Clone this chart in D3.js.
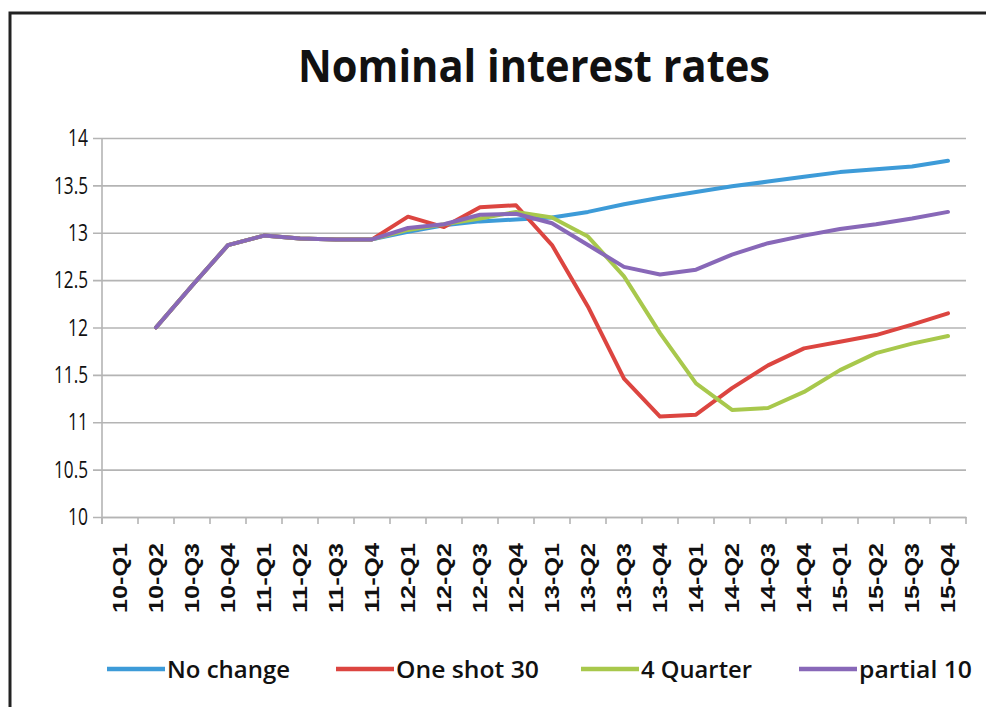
<!DOCTYPE html>
<html><head><meta charset="utf-8">
<script src="https://cdn.jsdelivr.net/npm/d3@7"></script>
<style>
html,body{margin:0;padding:0;background:#fff;}
svg{display:block;}
</style></head>
<body>
<svg id="chart" width="986" height="707"></svg>
<script>
const categories = ["10-Q1","10-Q2","10-Q3","10-Q4","11-Q1","11-Q2","11-Q3","11-Q4",
  "12-Q1","12-Q2","12-Q3","12-Q4","13-Q1","13-Q2","13-Q3","13-Q4",
  "14-Q1","14-Q2","14-Q3","14-Q4","15-Q1","15-Q2","15-Q3","15-Q4"];
const yTicks = [10,10.5,11,11.5,12,12.5,13,13.5,14];
const seriesNames = ["No change","One shot 30","4 Quarter","partial 10"];
const seriesColors = ["#3d9bd8","#dc4540","#a8c84c","#8868b8"];
const noChange   = [null,12.0,12.44,12.87,12.97,12.94,12.93,12.93,13.01,13.08,13.12,13.14,13.16,13.22,13.30,13.37,13.43,13.49,13.54,13.59,13.64,13.67,13.70,13.76];
const oneShot30  = [null,12.0,12.44,12.87,12.97,12.94,12.93,12.93,13.17,13.06,13.27,13.29,12.87,12.22,11.46,11.06,11.08,11.36,11.60,11.78,11.85,11.92,12.03,12.15];
const quarter4   = [null,12.0,12.44,12.87,12.97,12.94,12.93,12.93,13.03,13.09,13.15,13.22,13.16,12.96,12.54,11.94,11.41,11.13,11.15,11.32,11.55,11.73,11.83,11.91];
const partial10  = [null,12.0,12.44,12.87,12.97,12.94,12.93,12.93,13.05,13.09,13.19,13.20,13.10,12.87,12.64,12.56,12.61,12.77,12.89,12.97,13.04,13.09,13.15,13.22];
const seriesValues = [noChange, oneShot30, quarter4, partial10];

const svg = d3.select("#chart");
const L = 102, R = 966, T = 138, B = 517;

// outer frame (left & top edges visible)
svg.append("path").attr("d","M10,707 L10,13 L986,13").attr("fill","none")
  .attr("stroke","#222").attr("stroke-width",3);

// title
svg.append("text").attr("x",534).attr("y",82).attr("text-anchor","middle")
  .attr("font-family","'Open Sans', Arial, sans-serif").attr("font-weight",700)
  .attr("font-size",45).attr("fill","#111").text("Nominal interest rates")
  .attr("textLength",472).attr("lengthAdjust","spacingAndGlyphs");

const x = d3.scaleBand().domain(categories).range([L,R]).paddingInner(0).paddingOuter(0);
const y = d3.scaleLinear().domain([10,14]).range([B,T]);

// gridlines + y axis
const yAxis = d3.axisLeft(y).tickValues(yTicks).tickSize(-(R-L)).tickPadding(14)
  .tickFormat(d => String(d));
const gy = svg.append("g").attr("transform",`translate(${L},0)`).call(yAxis);
gy.select(".domain").remove();
gy.selectAll(".tick line").attr("stroke","#b4b4b4").attr("stroke-width",1.6)
  .attr("x1",-9);
gy.selectAll(".tick text").attr("font-family","'Open Sans', Arial, sans-serif")
  .attr("font-size",24).attr("fill","#111").attr("x",-14)
  .each(function(d){
    const s = String(d);
    const w = s.length === 2 ? 20 : 34;
    d3.select(this).attr("textLength", w).attr("lengthAdjust","spacingAndGlyphs");
  });

// y axis line
svg.append("line").attr("x1",L).attr("x2",L).attr("y1",T).attr("y2",B+7)
  .attr("stroke","#b4b4b4").attr("stroke-width",1.6);

// x axis
const xAxis = d3.axisBottom(x).tickSize(0).tickPadding(0);
const gx = svg.append("g").attr("transform",`translate(0,${B})`).call(xAxis);
gx.select(".domain").attr("stroke","#b4b4b4").attr("stroke-width",1.6);
gx.selectAll(".tick line").remove();
gx.selectAll(".tick text")
  .attr("font-family","'Liberation Sans', Arial, sans-serif").attr("font-weight",700)
  .attr("font-size",20).attr("fill","#111")
  .attr("text-anchor","end").attr("dy","0.35em")
  .attr("transform","translate(0,26) rotate(-90)")
  .attr("x",0).attr("y",0)
  .attr("textLength",70).attr("lengthAdjust","spacingAndGlyphs");
// boundary ticks
const bounds = categories.map(c => x(c)).concat([R]);
svg.append("g").selectAll("line").data(bounds).join("line")
  .attr("x1",d=>d).attr("x2",d=>d).attr("y1",B).attr("y2",B+7)
  .attr("stroke","#b4b4b4").attr("stroke-width",1.6);

// lines
const line = d3.line().defined(d => d.v != null)
  .x(d => x(d.c) + x.bandwidth()/2).y(d => y(d.v));
seriesValues.forEach((vals,i) => {
  svg.append("path")
    .datum(vals.map((v,j) => ({c:categories[j], v})))
    .attr("fill","none").attr("stroke",seriesColors[i]).attr("stroke-width",4)
    .attr("stroke-linejoin","round").attr("stroke-linecap","round")
    .attr("d", line);
});

// legend
const legX = [107, 336, 581, 799];
const legW = [123, 143, 111, 113];
const leg = svg.append("g");
seriesNames.forEach((n,i) => {
  const g = leg.append("g");
  g.append("line").attr("x1",legX[i]).attr("x2",legX[i]+58).attr("y1",669).attr("y2",669)
    .attr("stroke",seriesColors[i]).attr("stroke-width",4.5);
  g.append("text").attr("x",legX[i]+60).attr("y",678)
    .attr("font-family","'Open Sans', Arial, sans-serif").attr("font-weight",600)
    .attr("font-size",23).attr("fill","#111").text(n)
    .attr("textLength",legW[i]).attr("lengthAdjust","spacingAndGlyphs");
});
</script>
</body></html>
